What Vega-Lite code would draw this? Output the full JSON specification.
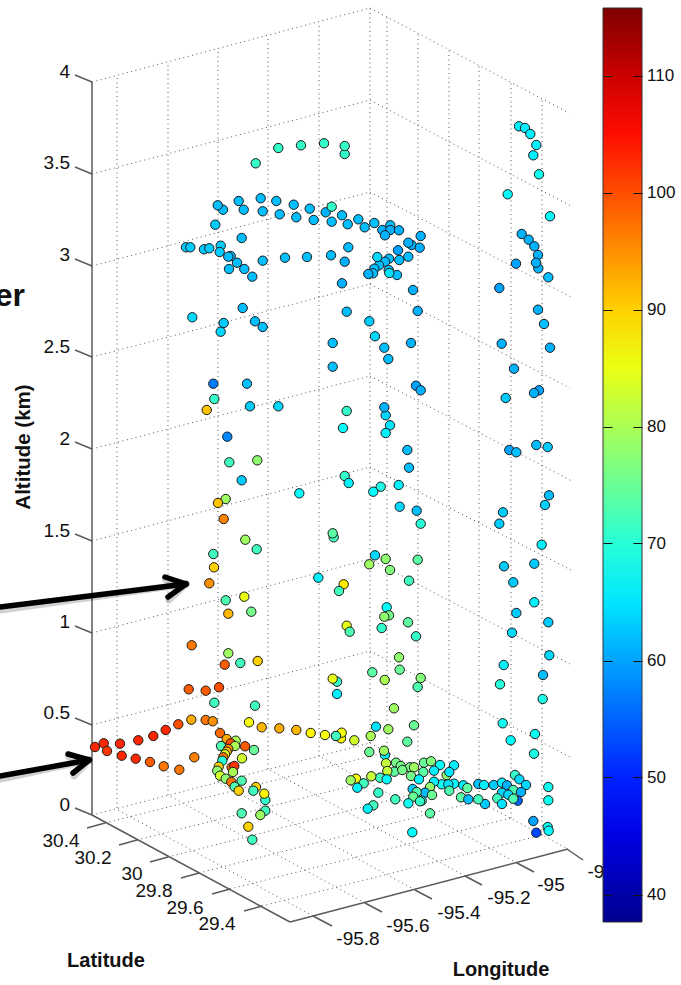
{"$schema":"https://vega.github.io/schema/vega-lite/v6.json","width":681,"height":985,"padding":0,"autosize":{"type":"none"},"background":"white","config":{"view":{"stroke":null}},
"datasets":{
"grid":[
{"a":92,"b":815,"c":370,"d":743},{"a":92,"b":725,"c":370,"d":651},{"a":92,"b":633,"c":370,"d":559},{"a":92,"b":541,"c":370,"d":467},{"a":92,"b":449,"c":370,"d":376},{"a":92,"b":357,"c":370,"d":284},{"a":92,"b":266,"c":370,"d":192},{"a":92,"b":174,"c":370,"d":100},{"a":92,"b":82,"c":370,"d":8},
{"a":370,"b":743,"c":568,"d":849},{"a":370,"b":651,"c":570,"d":757},{"a":370,"b":559,"c":570,"d":664},{"a":370,"b":467,"c":573,"d":571},{"a":370,"b":376,"c":572,"d":481},{"a":370,"b":284,"c":570,"d":388},{"a":370,"b":192,"c":573,"d":298},{"a":370,"b":100,"c":571,"d":206},{"a":370,"b":8,"c":569,"d":113},
{"a":117,"b":808,"c":117,"d":76},{"a":168,"b":795,"c":168,"d":62},{"a":218,"b":782,"c":218,"d":49},{"a":268,"b":769,"c":268,"d":36},{"a":319,"b":756,"c":319,"d":23},{"a":370,"b":743,"c":370,"d":8},
{"a":387,"b":752,"c":387,"d":15},{"a":418,"b":769,"c":418,"d":33},{"a":449,"b":785,"c":449,"d":48},{"a":479,"b":801,"c":479,"d":65},{"a":511,"b":818,"c":511,"d":82},{"a":542,"b":835,"c":542,"d":99},
{"a":313,"b":916,"c":116,"d":809},{"a":365,"b":903,"c":168,"d":795},{"a":415,"b":890,"c":218,"d":782},{"a":465,"b":876,"c":268,"d":769},{"a":517,"b":863,"c":319,"d":756},
{"a":105,"b":823,"c":387,"d":752},{"a":137,"b":840,"c":418,"d":769},{"a":168,"b":857,"c":449,"d":785},{"a":199,"b":873,"c":479,"d":801},{"a":230,"b":889,"c":511,"d":818},{"a":262,"b":906,"c":542,"d":835}],
"axes":[
{"a":92,"b":82,"c":92,"d":815},{"a":92,"b":815,"c":290,"d":922},{"a":290,"b":922,"c":568,"d":849},
{"a":92,"b":815,"c":75,"d":808},{"a":92,"b":725,"c":75,"d":718},{"a":92,"b":633,"c":75,"d":626},{"a":92,"b":541,"c":75,"d":534},{"a":92,"b":449,"c":75,"d":442},{"a":92,"b":357,"c":75,"d":350},{"a":92,"b":266,"c":75,"d":259},{"a":92,"b":174,"c":75,"d":167},{"a":92,"b":82,"c":75,"d":75},
{"a":105,"b":823,"c":87,"d":828},{"a":137,"b":840,"c":119,"d":845},{"a":168,"b":857,"c":150,"d":862},{"a":199,"b":873,"c":181,"d":878},{"a":230,"b":889,"c":212,"d":894},{"a":262,"b":906,"c":244,"d":911},
{"a":313,"b":916,"c":332,"d":926},{"a":365,"b":903,"c":382,"d":912},{"a":415,"b":890,"c":432,"d":899},{"a":465,"b":876,"c":482,"d":885},{"a":517,"b":863,"c":534,"d":872},{"a":567,"b":849,"c":583,"d":860}],
"arrows":[
{"a":0,"b":607,"c":186,"d":584},{"a":165,"b":577,"c":186,"d":584},{"a":168,"b":597,"c":186,"d":584},
{"a":0,"b":776,"c":89,"d":760},{"a":68,"b":754,"c":89,"d":760},{"a":73,"b":773,"c":89,"d":760}],
"cbticks":[{"b":76},{"b":193},{"b":310},{"b":427},{"b":543},{"b":661},{"b":777},{"b":895}],
"zlabels":[{"t":"0","a":70,"b":805},{"t":"0.5","a":70,"b":713},{"t":"1","a":70,"b":622},{"t":"1.5","a":70,"b":531},{"t":"2","a":70,"b":439},{"t":"2.5","a":70,"b":347},{"t":"3","a":70,"b":255},{"t":"3.5","a":70,"b":163},{"t":"4","a":70,"b":72}],
"hlabels":[{"t":"30.4","a":61,"b":841},{"t":"30.2","a":93,"b":858},{"t":"30","a":132,"b":874},{"t":"29.8","a":154,"b":891},{"t":"29.6","a":185,"b":908},{"t":"29.4","a":217,"b":924},{"t":"-95.8","a":358,"b":939},{"t":"-95.6","a":408,"b":926},{"t":"-95.4","a":459,"b":913},{"t":"-95.2","a":509,"b":898},{"t":"-95","a":551,"b":885},{"t":"-9","a":596,"b":872}],
"titles":[{"t":"Latitude","a":106,"b":961},{"t":"Longitude","a":501,"b":970}],
"ztitle":[{"t":"Altitude (km)","a":24,"b":447}],
"frag":[{"t":"er","a":25,"b":306}],
"points":[
{"a":95,"b":747,"o":103},{"a":103.7,"b":743.3,"o":103},{"a":107,"b":751,"o":102},{"a":120,"b":743.7,"o":103},{"a":121.7,"b":755.7,"o":103},{"a":138.3,"b":740.3,"o":103},{"a":135.7,"b":758.7,"o":103},{"a":153.3,"b":736,"o":103},{"a":150,"b":762,"o":99},{"a":165.7,"b":730,"o":103},{"a":163.7,"b":766.3,"o":97},{"a":178.3,"b":724.3,"o":100},{"a":179.3,"b":769.7,"o":97},{"a":194.3,"b":757.3,"o":96},{"a":191.3,"b":719.7,"o":93},{"a":205.7,"b":720,"o":97},{"a":212.7,"b":721.3,"o":95},
{"a":188.7,"b":689.3,"o":99},{"a":205.7,"b":690.7,"o":99},{"a":219,"b":687.3,"o":100},{"a":214.3,"b":702.7,"o":72},{"a":191.7,"b":645.3,"o":97},{"a":228.3,"b":653.3,"o":79},{"a":224.7,"b":664.7,"o":99},{"a":240.3,"b":663,"o":72},{"a":257.7,"b":661,"o":90},{"a":255,"b":705.7,"o":72},
{"a":249,"b":722.3,"o":86},{"a":261.7,"b":727.3,"o":92},{"a":279.3,"b":728.3,"o":93},{"a":296.3,"b":730,"o":92},{"a":310.7,"b":733,"o":87},{"a":325,"b":735,"o":86},{"a":336,"b":736,"o":71},
{"a":220,"b":733,"o":98},{"a":226.7,"b":739,"o":93},{"a":235.7,"b":740.7,"o":80},{"a":230.7,"b":743.3,"o":100},{"a":235,"b":746,"o":80},{"a":245,"b":746.3,"o":99},{"a":254,"b":750,"o":75},{"a":221,"b":746,"o":73},{"a":228.3,"b":749,"o":95},{"a":226.7,"b":751.7,"o":92},{"a":225,"b":754.3,"o":84},{"a":223.3,"b":757.3,"o":97},{"a":222.3,"b":760.7,"o":70},{"a":242,"b":758.3,"o":83},{"a":231.7,"b":767.3,"o":98},{"a":234.3,"b":766,"o":102},{"a":233,"b":772,"o":80},{"a":218.7,"b":766.7,"o":90},{"a":217.3,"b":770.7,"o":78},{"a":220,"b":775.7,"o":83},{"a":225.7,"b":778.7,"o":78},{"a":231.3,"b":782,"o":97},{"a":241.7,"b":780.7,"o":73},{"a":234.7,"b":786.7,"o":73},{"a":238.7,"b":790.7,"o":90},{"a":256,"b":787,"o":90},{"a":253.3,"b":790.7,"o":72},{"a":265.3,"b":800,"o":71},{"a":264.3,"b":793.7,"o":87},{"a":265.3,"b":810.7,"o":72},{"a":260.3,"b":815,"o":79},{"a":241.7,"b":813.3,"o":73},{"a":248.3,"b":826.7,"o":90},{"a":252.3,"b":839.7,"o":72},
{"a":337,"b":681.7,"o":71},{"a":332.7,"b":678.7,"o":85},{"a":337,"b":694,"o":66},
{"a":399,"b":657.3,"o":78},{"a":372.3,"b":672.3,"o":74},{"a":399.7,"b":669.7,"o":75},{"a":384.7,"b":680,"o":80},{"a":420.7,"b":678,"o":77},{"a":417.7,"b":687,"o":73},{"a":394,"b":708.3,"o":79},{"a":414,"b":725.3,"o":75},{"a":376,"b":726.7,"o":65},{"a":388.3,"b":729.3,"o":79},{"a":341,"b":738.3,"o":87},{"a":341.7,"b":732.7,"o":86},{"a":336,"b":736,"o":72},{"a":354.3,"b":740.3,"o":83},{"a":370.7,"b":736,"o":80},{"a":407.3,"b":741.7,"o":74},{"a":369.3,"b":752,"o":75},{"a":385,"b":755,"o":66},{"a":384,"b":750.7,"o":79},{"a":386,"b":763.3,"o":82},{"a":396,"b":762.7,"o":76},{"a":400.7,"b":766,"o":76},{"a":410,"b":767.3,"o":76},{"a":414,"b":767.3,"o":79},{"a":424,"b":762.7,"o":75},{"a":431,"b":761.3,"o":77},{"a":440,"b":765,"o":67},{"a":454,"b":765.3,"o":66},{"a":394.3,"b":771.7,"o":74},{"a":402.3,"b":770,"o":76},{"a":387.3,"b":771,"o":82},{"a":423.3,"b":772,"o":74},{"a":446.7,"b":775,"o":78},{"a":434,"b":770.7,"o":66},{"a":449.3,"b":772,"o":65},{"a":411,"b":776,"o":76},{"a":380,"b":777.7,"o":72},{"a":371.3,"b":776.3,"o":82},{"a":386.7,"b":779.3,"o":67},{"a":419,"b":779.3,"o":66},{"a":356,"b":778.7,"o":86},{"a":350.7,"b":780.3,"o":79},{"a":363.7,"b":783.3,"o":72},{"a":357.3,"b":787.7,"o":66},{"a":441.7,"b":784.3,"o":68},{"a":434,"b":781.7,"o":66},{"a":454,"b":783.7,"o":67},{"a":448.3,"b":784.3,"o":65},{"a":463.3,"b":785.3,"o":66},{"a":467.3,"b":788,"o":74},{"a":478.3,"b":784,"o":62},{"a":484,"b":785,"o":66},{"a":493.7,"b":785,"o":63},{"a":502,"b":782.7,"o":66},{"a":507,"b":785.3,"o":61},{"a":515,"b":775,"o":71},{"a":519.3,"b":779.3,"o":64},{"a":526,"b":785,"o":64},{"a":513.3,"b":790,"o":73},{"a":521,"b":792,"o":61},{"a":502,"b":792.7,"o":64},{"a":508.3,"b":794.7,"o":64},{"a":517.7,"b":800.7,"o":55},{"a":513.3,"b":798.7,"o":73},{"a":497.3,"b":798.3,"o":72},{"a":502,"b":804,"o":65},{"a":485,"b":804,"o":63},{"a":478.3,"b":799.3,"o":72},{"a":461,"b":797.3,"o":74},{"a":468.3,"b":799.3,"o":62},{"a":449.3,"b":790.7,"o":73},{"a":430,"b":787,"o":78},{"a":425,"b":792.7,"o":62},{"a":432,"b":795,"o":75},{"a":412.7,"b":789,"o":63},{"a":416.7,"b":792,"o":73},{"a":413.3,"b":796.7,"o":75},{"a":421.7,"b":800.7,"o":70},{"a":420,"b":801.3,"o":71},{"a":408.3,"b":803.3,"o":68},{"a":395.3,"b":799.3,"o":72},{"a":378.3,"b":792.7,"o":71},{"a":373.3,"b":805.3,"o":72},{"a":367.7,"b":808.7,"o":66},{"a":430,"b":813.3,"o":74},{"a":412.3,"b":832.3,"o":67},{"a":533.3,"b":821,"o":60},{"a":536.3,"b":832.7,"o":53},{"a":547.7,"b":827,"o":68},{"a":548.7,"b":830.7,"o":67},{"a":548.3,"b":787,"o":68},{"a":548.3,"b":800.3,"o":68},
{"a":549.3,"b":655.3,"o":64},{"a":503.7,"b":665,"o":66},{"a":543,"b":675,"o":62},{"a":500,"b":684.3,"o":70},{"a":542.7,"b":699,"o":69},{"a":502.7,"b":723.3,"o":68},{"a":535,"b":734,"o":68},{"a":510.7,"b":740.3,"o":67},{"a":534,"b":753.7,"o":69},
{"a":375,"b":336.3,"o":64},{"a":332.7,"b":343,"o":62},{"a":384.3,"b":347.7,"o":62},{"a":411,"b":343,"o":61},{"a":388.3,"b":359,"o":62},{"a":332.7,"b":366.7,"o":62},{"a":501.7,"b":343.7,"o":61},{"a":550,"b":347.7,"o":61},{"a":514,"b":368.7,"o":61},{"a":416,"b":385.7,"o":60},{"a":420.7,"b":390.3,"o":61},{"a":539,"b":390.3,"o":60},{"a":534,"b":393,"o":61},{"a":505.7,"b":398,"o":63},{"a":385.7,"b":415.3,"o":64},{"a":384.3,"b":407.3,"o":61},{"a":346.7,"b":411,"o":71},{"a":390,"b":425.3,"o":65},{"a":343,"b":428,"o":67},{"a":385.7,"b":433,"o":66},{"a":407.3,"b":450,"o":62},{"a":536.3,"b":445,"o":62},{"a":547.7,"b":447,"o":63},{"a":509.3,"b":450,"o":60},{"a":516.3,"b":452.3,"o":62},{"a":409,"b":467.7,"o":62},{"a":344.7,"b":476,"o":71},{"a":348.7,"b":483,"o":66},{"a":380.7,"b":486.7,"o":69},{"a":373.3,"b":491.7,"o":67},{"a":398.7,"b":485,"o":66},{"a":549,"b":495.3,"o":62},{"a":545,"b":505,"o":63},{"a":399.7,"b":506.7,"o":64},{"a":416.7,"b":510.7,"o":62},{"a":420.7,"b":523.7,"o":70},{"a":503,"b":512.3,"o":63},{"a":499.3,"b":523.7,"o":63},{"a":541.7,"b":544.7,"o":66},{"a":333.7,"b":537.3,"o":72},{"a":332.7,"b":533.3,"o":74},{"a":375,"b":555.3,"o":64},{"a":385.7,"b":559,"o":78},{"a":369.3,"b":564.3,"o":79},{"a":390,"b":570,"o":77},{"a":417.7,"b":559.7,"o":74},{"a":409,"b":580.7,"o":72},{"a":534.3,"b":563.7,"o":63},{"a":504,"b":566.3,"o":63},{"a":513.3,"b":582.3,"o":63},{"a":343.7,"b":584.3,"o":88},{"a":339,"b":591,"o":72},{"a":534.3,"b":602.3,"o":66},{"a":516.3,"b":613,"o":63},{"a":386.7,"b":607.3,"o":67},{"a":389,"b":615.3,"o":76},{"a":384.3,"b":616.7,"o":78},{"a":408,"b":622.3,"o":74},{"a":548.3,"b":622.3,"o":63},{"a":346.7,"b":625.7,"o":85},{"a":349.7,"b":631.7,"o":73},{"a":381.7,"b":628,"o":71},{"a":416,"b":636.3,"o":71},{"a":512,"b":632.7,"o":64},
{"a":519,"b":126.3,"o":66},{"a":525,"b":128,"o":66},{"a":530.3,"b":134,"o":66},{"a":536.3,"b":145,"o":66},{"a":533.3,"b":155.3,"o":66},{"a":539,"b":174.3,"o":68},{"a":507.7,"b":194.3,"o":67},{"a":550,"b":216.3,"o":67},
{"a":344.7,"b":154,"o":71},{"a":344.7,"b":146,"o":71},
{"a":342,"b":215.3,"o":62},{"a":331.7,"b":221.7,"o":62},{"a":347.7,"b":224.3,"o":62},{"a":358.3,"b":219.3,"o":62},{"a":364.7,"b":227.3,"o":62},{"a":374.3,"b":223,"o":62},{"a":382.3,"b":230,"o":61},{"a":390.3,"b":225.3,"o":62},{"a":390.3,"b":230,"o":61},{"a":399,"b":230.3,"o":61},{"a":385,"b":235.3,"o":61},{"a":420.7,"b":236,"o":61},{"a":411.7,"b":245,"o":61},{"a":408.3,"b":242.7,"o":61},{"a":419.7,"b":247.7,"o":61},{"a":398,"b":250.3,"o":60},{"a":348.3,"b":247.3,"o":62},{"a":331,"b":255.3,"o":62},{"a":344.7,"b":261.7,"o":61},{"a":389,"b":258.7,"o":62},{"a":385,"b":261.7,"o":62},{"a":379,"b":265.3,"o":62},{"a":377.3,"b":257,"o":64},{"a":374.3,"b":268.7,"o":62},{"a":373,"b":273.3,"o":62},{"a":368.3,"b":274,"o":61},{"a":388.7,"b":270,"o":62},{"a":397,"b":275,"o":62},{"a":389.3,"b":273,"o":65},{"a":399.3,"b":260,"o":62},{"a":408.3,"b":256.7,"o":62},{"a":342,"b":283.3,"o":61},{"a":413,"b":290,"o":61},{"a":346.7,"b":311.7,"o":62},{"a":417.7,"b":311,"o":61},{"a":369.3,"b":321.3,"o":63},
{"a":521.7,"b":234,"o":61},{"a":528.7,"b":239.7,"o":61},{"a":534.3,"b":246.3,"o":61},{"a":538.3,"b":268.3,"o":61},{"a":538,"b":255,"o":61},{"a":536,"b":262.7,"o":61},{"a":516,"b":263.7,"o":60},{"a":548.3,"b":277.3,"o":62},{"a":499.3,"b":288,"o":60},{"a":538,"b":309.7,"o":61},{"a":544,"b":324,"o":62},
{"a":255.7,"b":163.3,"o":71},{"a":278.3,"b":148,"o":71},{"a":301,"b":145.3,"o":71},{"a":324,"b":143.3,"o":71},
{"a":223,"b":209.7,"o":62},{"a":217.7,"b":205.3,"o":62},{"a":238.7,"b":201,"o":62},{"a":243.7,"b":209.7,"o":62},{"a":260.7,"b":198.3,"o":62},{"a":262.7,"b":211.3,"o":62},{"a":276.3,"b":201,"o":62},{"a":279.7,"b":214.3,"o":62},{"a":293.7,"b":204.7,"o":62},{"a":296.3,"b":217.3,"o":62},{"a":309.7,"b":208.7,"o":62},{"a":313.7,"b":220,"o":62},{"a":325.7,"b":212.3,"o":61},{"a":331.7,"b":206.7,"o":71},
{"a":215.3,"b":224.7,"o":63},{"a":241.7,"b":238,"o":62},{"a":186,"b":247.3,"o":63},{"a":190.3,"b":247.3,"o":63},{"a":204,"b":249.3,"o":63},{"a":209.3,"b":248.3,"o":63},{"a":220.7,"b":245.7,"o":63},{"a":219.7,"b":252,"o":63},{"a":230.7,"b":256,"o":62},{"a":228.3,"b":256.7,"o":62},{"a":229,"b":269,"o":62},{"a":244.3,"b":269,"o":62},{"a":237,"b":262.7,"o":62},{"a":252.3,"b":276.7,"o":62},{"a":262.7,"b":260.7,"o":62},{"a":285,"b":257.7,"o":62},{"a":307,"b":257,"o":62},
{"a":192.3,"b":317.3,"o":64},{"a":242.7,"b":308,"o":62},{"a":220.7,"b":331.7,"o":64},{"a":223.7,"b":323,"o":63},{"a":255,"b":321.3,"o":62},{"a":262.7,"b":327,"o":62},
{"a":213.3,"b":383.7,"o":57},{"a":247,"b":383.7,"o":62},{"a":214.3,"b":399,"o":71},{"a":206.7,"b":410,"o":91},{"a":250,"b":406.3,"o":63},{"a":278.3,"b":406.3,"o":64},{"a":227.3,"b":436.7,"o":58},{"a":229.3,"b":462.3,"o":72},{"a":257.3,"b":460.3,"o":78},{"a":241.7,"b":480.3,"o":63},{"a":299.3,"b":493.3,"o":67},{"a":225.7,"b":499,"o":79},{"a":218,"b":503,"o":91},{"a":223.7,"b":519,"o":96},{"a":245.3,"b":539.7,"o":79},{"a":256.7,"b":549.3,"o":72},{"a":213.3,"b":554,"o":72},{"a":214,"b":567.3,"o":90},{"a":209.3,"b":583.3,"o":95},{"a":225.7,"b":600.3,"o":73},{"a":244.3,"b":596.7,"o":85},{"a":228.3,"b":613.7,"o":92},{"a":251.3,"b":611.7,"o":76},{"a":318.3,"b":577.7,"o":66}
]},
"layer":[
{"data":{"name":"grid"},"mark":{"type":"rule","stroke":"#555555","strokeWidth":1,"strokeDash":[1,3.5]},"encoding":{"x":{"field":"a","type":"quantitative","scale":{"domain":[0,681],"nice":false,"zero":false},"axis":null},"y":{"field":"b","type":"quantitative","scale":{"domain":[985,0],"nice":false,"zero":false},"axis":null},"x2":{"field":"c"},"y2":{"field":"d"}}},
{"data":{"name":"axes"},"mark":{"type":"rule","stroke":"#5a5a5a","strokeWidth":1.5},"encoding":{"x":{"field":"a","type":"quantitative","axis":null},"y":{"field":"b","type":"quantitative","axis":null},"x2":{"field":"c"},"y2":{"field":"d"}}},
{"data":{"name":"zlabels"},"mark":{"type":"text","font":"Liberation Sans","fontSize":19,"align":"right","baseline":"middle","fill":"#111111"},"encoding":{"x":{"field":"a","type":"quantitative","axis":null},"y":{"field":"b","type":"quantitative","axis":null},"text":{"field":"t"}}},
{"data":{"name":"hlabels"},"mark":{"type":"text","font":"Liberation Sans","fontSize":19,"align":"center","baseline":"middle","fill":"#111111"},"encoding":{"x":{"field":"a","type":"quantitative","axis":null},"y":{"field":"b","type":"quantitative","axis":null},"text":{"field":"t"}}},
{"data":{"name":"titles"},"mark":{"type":"text","font":"Liberation Sans","fontSize":20,"fontWeight":"bold","align":"center","baseline":"middle","fill":"#111111"},"encoding":{"x":{"field":"a","type":"quantitative","axis":null},"y":{"field":"b","type":"quantitative","axis":null},"text":{"field":"t"}}},
{"data":{"name":"ztitle"},"mark":{"type":"text","font":"Liberation Sans","fontSize":20.5,"fontWeight":"bold","align":"center","baseline":"middle","angle":270,"fill":"#111111"},"encoding":{"x":{"field":"a","type":"quantitative","axis":null},"y":{"field":"b","type":"quantitative","axis":null},"text":{"field":"t"}}},
{"data":{"name":"frag"},"mark":{"type":"text","font":"Liberation Sans","fontSize":32,"fontWeight":"bold","align":"right","baseline":"alphabetic","fill":"#111111"},"encoding":{"x":{"field":"a","type":"quantitative","axis":null},"y":{"field":"b","type":"quantitative","axis":null},"text":{"field":"t"}}},
{"data":{"name":"points"},"mark":{"type":"circle","size":88,"opacity":1,"stroke":"#1a1a1a","strokeWidth":1},"encoding":{"x":{"field":"a","type":"quantitative","axis":null},"y":{"field":"b","type":"quantitative","axis":null},"color":{"field":"o","type":"quantitative","scale":{"domain":[37.7,47.5,67,86.5,106,115.8],"range":["#00008f","#0000ff","#00ffff","#ffff00","#ff0000","#800000"],"interpolate":"rgb","clamp":true},"legend":{"orient":"none","legendX":603,"legendY":8,"title":null,"direction":"vertical","gradientLength":914,"gradientThickness":39,"gradientStrokeColor":"#333333","gradientStrokeWidth":1,"values":[40,50,60,70,80,90,100,110],"labelFont":"Liberation Sans","labelFontSize":17,"labelColor":"#111111","labelOffset":5}}}},
{"data":{"name":"arrows"},"mark":{"type":"rule","stroke":"#000000","strokeWidth":7,"strokeCap":"round","opacity":0.18,"xOffset":1,"yOffset":3},"encoding":{"x":{"field":"a","type":"quantitative","axis":null},"y":{"field":"b","type":"quantitative","axis":null},"x2":{"field":"c"},"y2":{"field":"d"}}},
{"data":{"name":"arrows"},"mark":{"type":"rule","stroke":"#000000","strokeWidth":5.5,"strokeCap":"round"},"encoding":{"x":{"field":"a","type":"quantitative","axis":null},"y":{"field":"b","type":"quantitative","axis":null},"x2":{"field":"c"},"y2":{"field":"d"}}},
{"data":{"name":"cbticks"},"mark":{"type":"point","opacity":0},"encoding":{"y":{"field":"b","type":"quantitative","axis":{"orient":"left","offset":-612,"values":[76,193,310,427,543,661,777,895],"tickSize":9,"tickColor":"#111111","tickWidth":1,"domain":false,"labels":false,"grid":false,"title":null,"zindex":1}}}},
{"data":{"name":"cbticks"},"mark":{"type":"point","opacity":0},"encoding":{"y":{"field":"b","type":"quantitative","axis":{"orient":"right","offset":-48,"values":[76,193,310,427,543,661,777,895],"tickSize":9,"tickColor":"#111111","tickWidth":1,"domain":false,"labels":false,"grid":false,"title":null,"zindex":1}}}}
],
"resolve":{"scale":{"x":"shared","y":"shared"},"axis":{"y":"independent"}}}
